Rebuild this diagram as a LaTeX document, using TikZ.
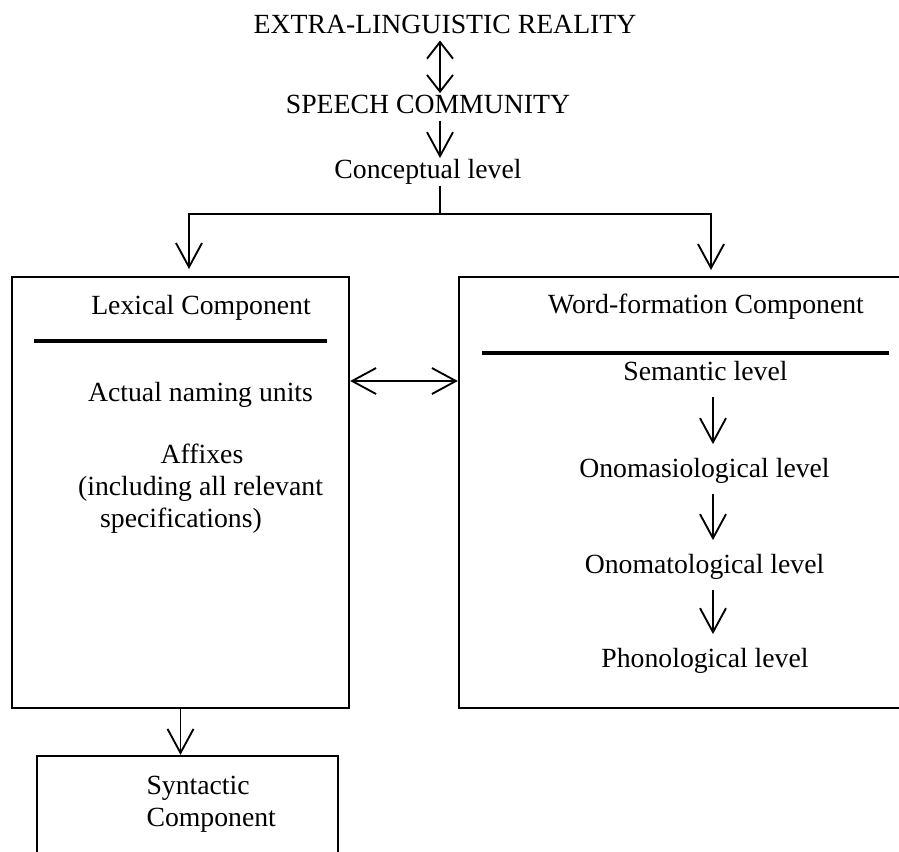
\documentclass[tikz,border=0pt]{standalone}
\usepackage{fontspec}
\setmainfont{Liberation Serif}
\usetikzlibrary{arrows.meta}

\tikzset{every picture/.style={line width=0.75pt}}
\tikzset{
  lbl/.style={inner sep=0.75pt, anchor=base, font=\fontsize{20.8}{25}\selectfont, text height=13.8pt, text depth=4.5pt},
  lblw/.style={lbl, anchor=base west},
  compbox/.style={draw, line width=1.7pt, inner sep=0pt, minimum height=323.25pt},
  barb/.style={Straight Barb[length=18pt,width=19.5pt,line width=1.4pt]},
  arr/.style={line width=1.4pt, -{Straight Barb[length=18pt,width=19.5pt,line width=1.4pt]}},
  biarr/.style={line width=1.4pt, {Straight Barb[length=18pt,width=19.5pt,line width=1.4pt]}-{Straight Barb[length=18pt,width=19.5pt,line width=1.4pt]}},
  rulel/.style={line width=2.6pt}
}

\begin{document}
\begin{tikzpicture}[x=0.75pt,y=0.75pt,yscale=-1,xscale=1]
\useasboundingbox (0,0) rectangle (899,851);
\clip (0,0) rectangle (899,851);

% Text Node
\node[lbl] (reality) at (445,33) {EXTRA-LINGUISTIC REALITY};
% Text Node
\node[lbl] (community) at (428,113) {SPEECH COMMUNITY};
% Text Node
\node[lbl] (concept) at (428,178) {Conceptual level};

\coordinate (axis) at (440,0);
\coordinate (fork) at (440,214);
\coordinate (lexin) at (189,269);
\coordinate (wfin) at (711,270);
\coordinate (midrow) at (400,381);
\coordinate (wfaxis) at (713,0);

%Boxes
\node[compbox, minimum width=252.75pt] (lexbox) at (180.5,492.5) {};
\node[compbox, minimum width=342pt] (wfbox) at (687,492.5) {};
\node[compbox, minimum width=225.75pt, minimum height=108pt] (synbox) at (187.5,828) {};

%Straight Lines
\draw[line width=1.4pt, {Straight Barb[length=12.5pt,width=19.5pt,line width=1.4pt]}-{Straight Barb[length=12.5pt,width=19.5pt,line width=1.4pt]}] (reality.south -| axis) -- (community.north -| axis) ;
\draw[arr] (community.south -| axis) -- (concept.north -| axis) ;
\draw[line width=1.4pt] (concept.south -| axis) -- (fork) ;
\draw[arr] (fork) -| (lexin) ;
\draw[arr] (fork) -| (wfin) ;
\draw[biarr] (lexbox.east |- midrow) -- (wfbox.west |- midrow) ;
\draw[arr] (lexbox.south) -- (lexbox.south |- synbox.north) ;

%Rules
\draw[rulel] (34,341) -- (327,341) ;
\draw[rulel] (482,353) -- (889,353) ;

% Text Node
\node[lbl] (lexhead) at (201,314) {Lexical Component};
% Text Node
\node[lbl] (naming) at (200.5,401) {Actual naming units};
% Text Node
\node[lbl] (affixes) at (202,463) {Affixes};
% Text Node
\node[lbl] (incl) at (200.5,495) {(including all relevant};
% Text Node
\node[lbl] (specs) at (181,527) {specifications)};

% Text Node
\node[lbl] (wfhead) at (706,313) {Word-formation Component};
% Text Node
\node[lbl] (sem) at (705.5,380) {Semantic level};
% Text Node
\node[lbl] (onomas) at (704.5,477) {Onomasiological level};
% Text Node
\node[lbl] (onomat) at (704.5,573) {Onomatological level};
% Text Node
\node[lbl] (phono) at (705,667) {Phonological level};

\draw[arr, shorten <=7pt, shorten >=9.75pt] (sem.south -| wfaxis) -- (onomas.north -| wfaxis) ;
\draw[arr, shorten <=7pt, shorten >=9.75pt] (onomas.south -| wfaxis) -- (onomat.north -| wfaxis) ;
\draw[arr, shorten <=7pt, shorten >=9.75pt] (onomat.south -| wfaxis) -- (phono.north -| wfaxis) ;

% Text Node
\node[lblw] (syn1) at (145,794) {Syntactic};
% Text Node
\node[lblw] (syn2) at (145,826) {Component};

\end{tikzpicture}
\end{document}
